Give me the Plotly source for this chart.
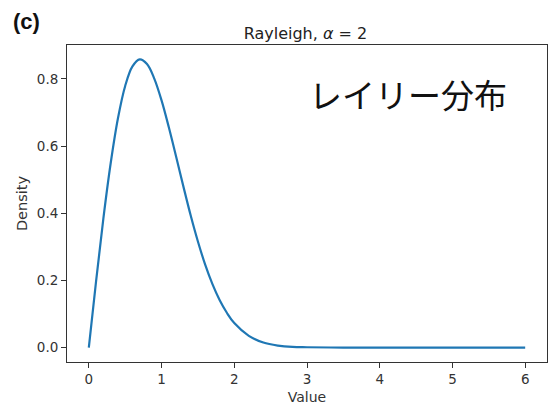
import plotly.graph_objects as go

x_vals = [0.0, 0.1, 0.2, 0.3, 0.4, 0.5, 0.6, 0.7, 0.8, 0.9, 1.0, 1.1, 1.2, 1.3, 1.4,
          1.5, 1.6, 1.7, 1.8, 1.9, 2.0, 2.2, 2.4, 2.6, 2.8, 3.0, 3.5, 4.0, 5.0, 6.0]
density = [0.0, 0.198, 0.384, 0.548, 0.682, 0.779, 0.837, 0.858, 0.844, 0.801, 0.736,
           0.656, 0.569, 0.480, 0.394, 0.316, 0.247, 0.189, 0.141, 0.103, 0.073,
           0.035, 0.015, 0.006, 0.002, 0.001, 0.0, 0.0, 0.0, 0.0]
x_ticks = [0, 1, 2, 3, 4, 5, 6]
y_ticks = [0.0, 0.2, 0.4, 0.6, 0.8]
y_tick_labels = ["0.0", "0.2", "0.4", "0.6", "0.8"]

fig = go.Figure()
fig.add_trace(go.Scatter(x=x_vals, y=density, mode="lines", line_shape="spline",
                         line=dict(color="#1f77b4", width=2.2), showlegend=False))

axis_common = dict(showgrid=False, zeroline=False, showline=True, linecolor="#333",
                   linewidth=1, mirror=True, ticks="outside", ticklen=5, tickcolor="#333",
                   tickfont=dict(family="DejaVu Sans", size=13.5, color="#333"))

fig.update_xaxes(range=[-0.3, 6.3], tickvals=x_ticks,
                 title=dict(text="Value", font=dict(family="DejaVu Sans", size=14, color="#333"), standoff=6),
                 **axis_common)
fig.update_yaxes(range=[-0.0429, 0.9009], tickvals=y_ticks, ticktext=y_tick_labels,
                 title=dict(text="Density", font=dict(family="DejaVu Sans", size=14.5, color="#333"), standoff=5),
                 **axis_common)

fig.update_layout(
    width=549, height=405,
    margin=dict(l=67, r=2, t=45, b=43),
    plot_bgcolor="white", paper_bgcolor="white",
    title=dict(text="Rayleigh, <i>α</i> = 2", x=0.5564, xanchor="center", y=0.918, yanchor="middle",
               font=dict(family="DejaVu Sans", size=16, color="#222")),
    annotations=[
        dict(text="<b>(c)</b>", xref="paper", yref="paper", x=-0.117, y=1.074,
             xanchor="left", yanchor="middle", showarrow=False,
             font=dict(family="Liberation Sans", size=22, color="#111")),
        dict(text="レイリー分布", xref="paper", yref="paper", x=0.5, y=0.845,
             xanchor="left", yanchor="middle", showarrow=False,
             font=dict(family="Noto Sans CJK JP", size=33, color="#111")),
    ],
)

fig.write_html("out.html")
